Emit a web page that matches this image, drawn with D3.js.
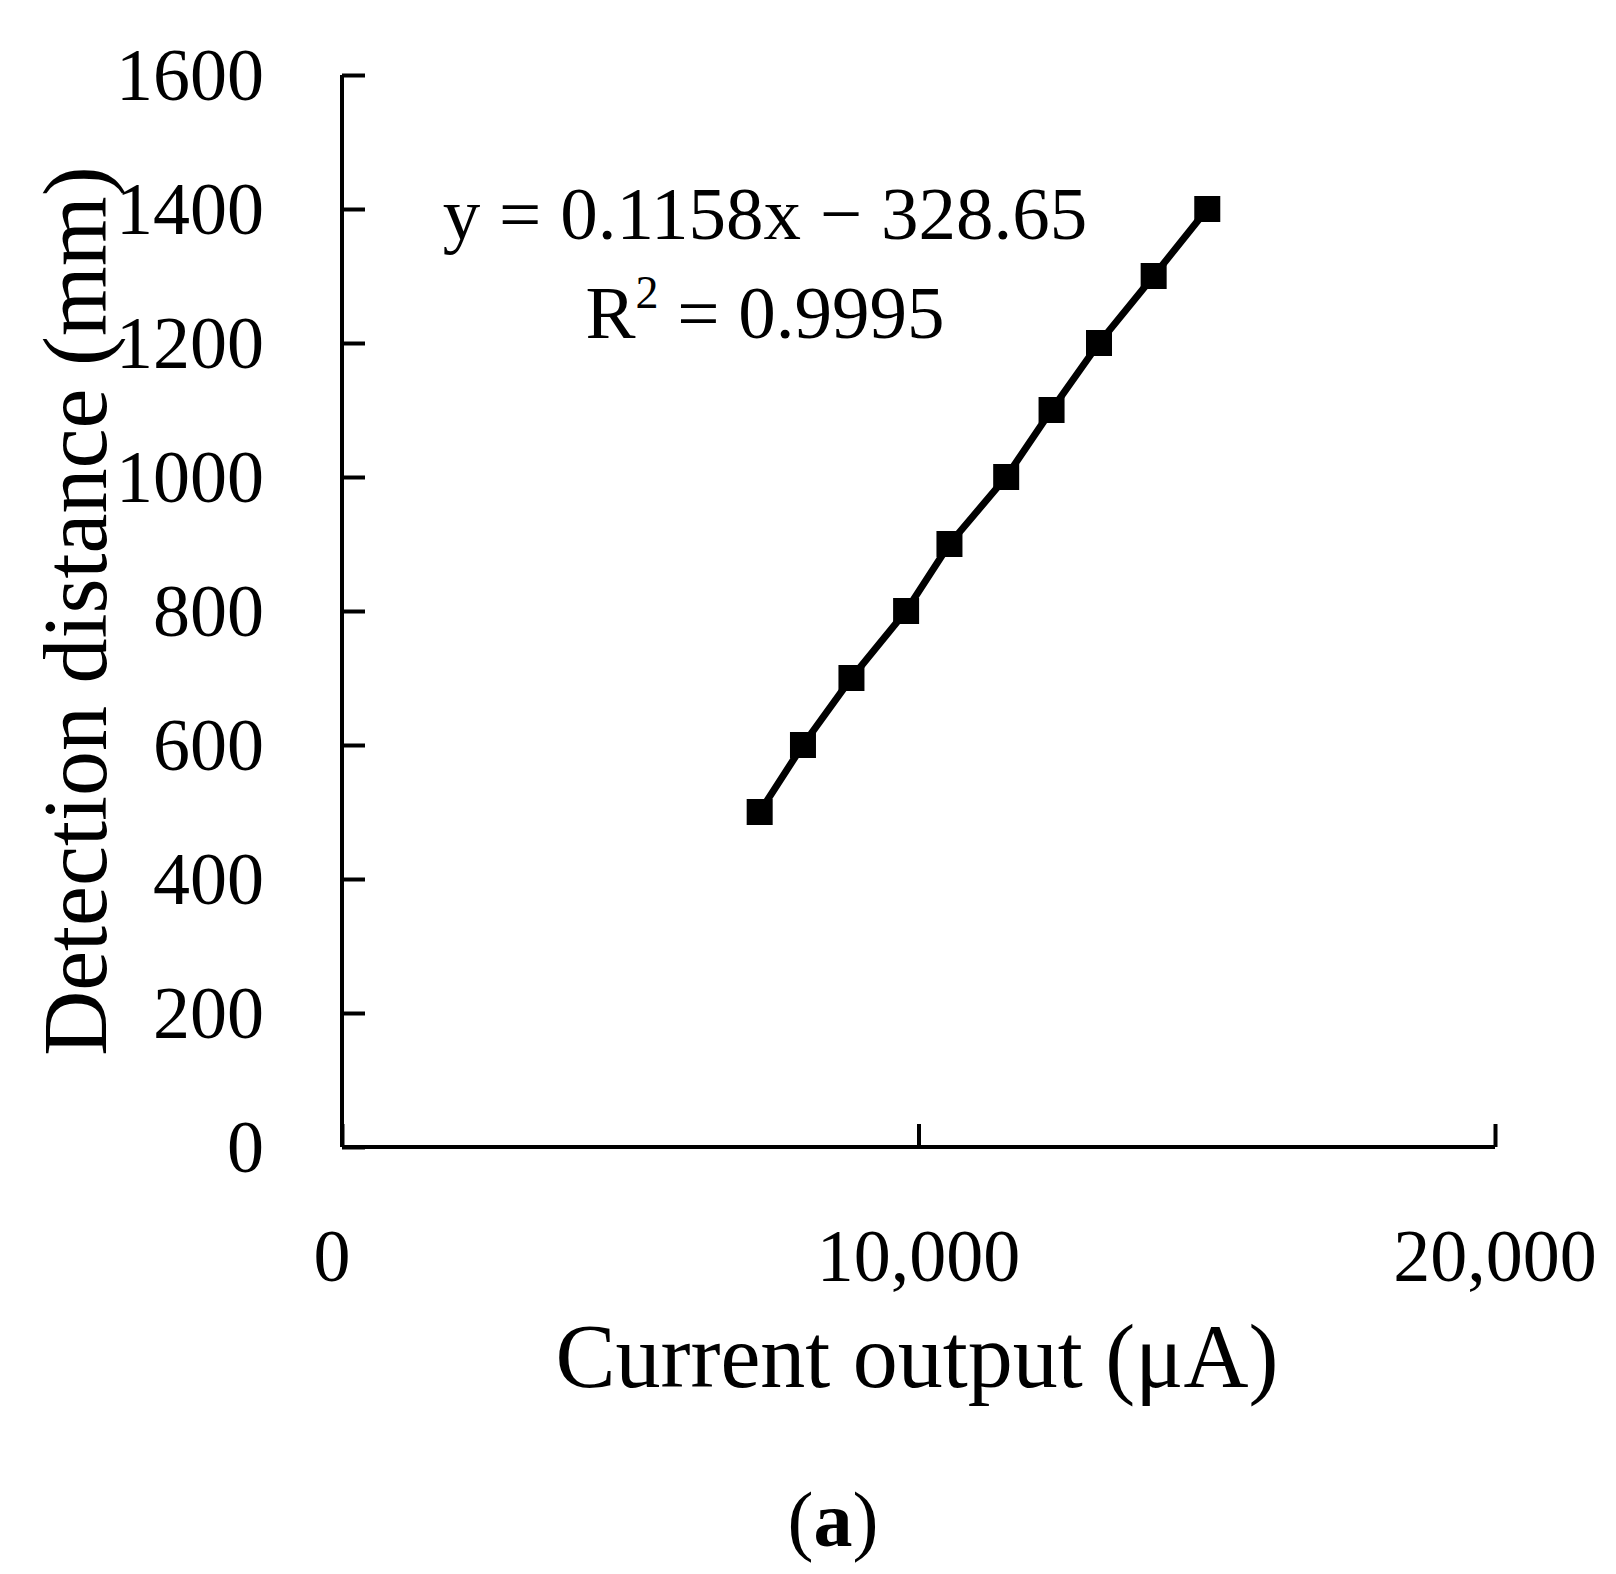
<!DOCTYPE html>
<html><head><meta charset="utf-8">
<script src="https://cdn.jsdelivr.net/npm/d3@7"></script>
<style>body{margin:0;background:#fff}text{font-family:"Liberation Serif","DejaVu Serif",serif}</style>
</head><body><svg id="chart" width="1616" height="1574"></svg>
<script>
var currentOutput = [7245, 7996, 8837, 9785, 10537, 11521, 12308, 13131, 14079, 15009];
var distance = [500, 600, 700, 800, 900, 1000, 1100, 1200, 1300, 1400];
var yTicks = [0, 200, 400, 600, 800, 1000, 1200, 1400, 1600];
var xTicks = [0, 10000, 20000];

var svg = d3.select('#chart');
var x = d3.scaleLinear().domain([0, 20000]).range([342, 1495]);
var y = d3.scaleLinear().domain([0, 1600]).range([1147, 75]);

// axes
var gy = svg.append('g').attr('transform', 'translate(342,0)')
    .call(d3.axisRight(y).tickValues(yTicks).tickSize(23).tickFormat(''));
var gx = svg.append('g').attr('transform', 'translate(0,1147)')
    .call(d3.axisTop(x).tickValues(xTicks).tickSize(23).tickFormat(''));
svg.selectAll('.domain').attr('stroke', '#000').attr('stroke-width', 4);
svg.selectAll('.tick line').attr('stroke', '#000').attr('stroke-width', 4);
gy.select('.domain').attr('d', 'M0,75V1147');
gx.select('.domain').attr('d', 'M342,0H1495');

svg.selectAll('.ylab').data(yTicks).enter().append('text')
    .attr('x', 264).attr('y', function (d) { return y(d) + 25; })
    .attr('text-anchor', 'end').attr('font-size', 74).text(function (d) { return d; });
svg.selectAll('.xlab').data(xTicks).enter().append('text')
    .attr('x', function (d) { return x(d) - (d === 0 ? 10 : 0); }).attr('y', 1281)
    .attr('text-anchor', 'middle').attr('font-size', 74).text(d3.format(','));

svg.append('text').attr('transform', 'translate(106,611) rotate(-90)')
    .attr('text-anchor', 'middle').attr('font-size', 90).text('Detection distance (mm)');
svg.append('text').attr('x', 917).attr('y', 1387)
    .attr('text-anchor', 'middle').attr('font-size', 90).text('Current output (μA)');
var cap = svg.append('text').attr('x', 833).attr('y', 1546).attr('text-anchor', 'middle').attr('font-size', 78);
cap.append('tspan').text('(');
cap.append('tspan').attr('font-weight', 'bold').text('a');
cap.append('tspan').text(')');

// data line + markers
var pts = currentOutput.map(function (v, i) { return [v, distance[i]]; });
svg.append('path').datum(pts)
    .attr('d', d3.line().x(function (d) { return x(d[0]); }).y(function (d) { return y(d[1]); }))
    .attr('fill', 'none').attr('stroke', '#000').attr('stroke-width', 7);
svg.selectAll('.pt').data(pts).enter().append('rect')
    .attr('x', function (d) { return x(d[0]) - 13; }).attr('y', function (d) { return y(d[1]) - 13; })
    .attr('width', 26).attr('height', 26).attr('fill', '#000');

// equation
svg.append('text').attr('x', 765).attr('y', 239).attr('text-anchor', 'middle')
    .attr('font-size', 75).text('y = 0.1158x − 328.65');
var r2 = svg.append('text').attr('x', 765).attr('y', 338).attr('text-anchor', 'middle').attr('font-size', 75);
r2.append('tspan').text('R');
r2.append('tspan').attr('dy', -30).attr('font-size', 46).text('2');
r2.append('tspan').attr('dy', 30).text(' = 0.9995');
</script></body></html>
